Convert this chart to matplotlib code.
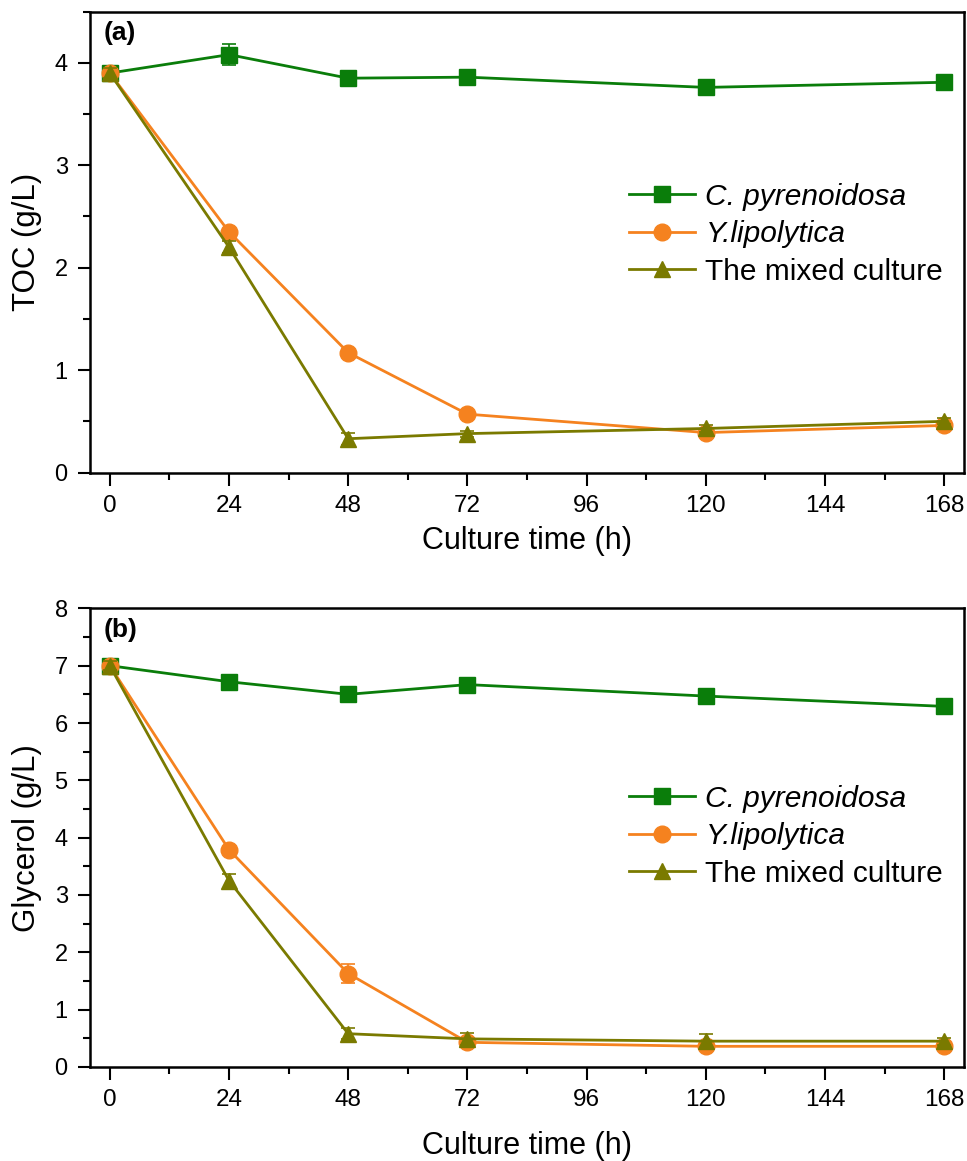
import numpy as np
import matplotlib
matplotlib.use("Agg")
import matplotlib.pyplot as plt
from matplotlib.ticker import MultipleLocator

plt.rcParams['font.family'] = ['Liberation Sans', 'DejaVu Sans']

# --------- data ---------
hours = [0, 24, 48, 72, 120, 168]

toc_cp    = [3.90, 4.08, 3.85, 3.86, 3.76, 3.81]
toc_cp_e  = [0.03, 0.10, 0.03, 0.03, 0.03, 0.03]
toc_yl    = [3.90, 2.35, 1.17, 0.57, 0.39, 0.46]
toc_yl_e  = [0.03, 0.03, 0.04, 0.03, 0.02, 0.02]
toc_mx    = [3.90, 2.20, 0.33, 0.38, 0.43, 0.50]
toc_mx_e  = [0.05, 0.06, 0.06, 0.03, 0.03, 0.03]

gly_cp    = [7.00, 6.72, 6.50, 6.67, 6.47, 6.29]
gly_cp_e  = [0.04, 0.05, 0.05, 0.05, 0.05, 0.05]
gly_yl    = [7.00, 3.79, 1.63, 0.43, 0.36, 0.36]
gly_yl_e  = [0.05, 0.05, 0.16, 0.05, 0.05, 0.05]
gly_mx    = [7.00, 3.25, 0.58, 0.49, 0.45, 0.45]
gly_mx_e  = [0.08, 0.12, 0.10, 0.10, 0.12, 0.06]

labels = ["C. pyrenoidosa", "Y.lipolytica", "The mixed culture"]
colors = ["#0a7d0a", "#f5821f", "#7a7a00"]
markers = ["s", "o", "^"]
msizes = [11, 12, 12]

fig = plt.figure(figsize=(9.67, 11.61), dpi=100)
ax1 = fig.add_axes([0.093, 0.593, 0.904, 0.397])
ax2 = fig.add_axes([0.093, 0.081, 0.904, 0.395])

def draw(ax, series, ymax, ylabel, tag, leg_y, xpad):
    for (y, e), lab, c, m, ms in zip(series, labels, colors, markers, msizes):
        ax.errorbar(hours, y, yerr=e, color=c, fmt="none", capsize=5,
                    elinewidth=1.2, capthick=1.2)
        ax.plot(hours, y, color=c, marker=m, markersize=ms, linewidth=2.0,
                label=lab)
    ax.set_xlim(-4, 172)
    ax.set_ylim(0, ymax)
    ax.xaxis.set_major_locator(MultipleLocator(24))
    ax.xaxis.set_minor_locator(MultipleLocator(12))
    ax.yaxis.set_major_locator(MultipleLocator(1))
    ax.yaxis.set_minor_locator(MultipleLocator(0.5))
    ax.tick_params(which="both", direction="out", top=False, right=False,
                   width=1.5)
    ax.tick_params(which="major", length=9, pad=7)
    ax.tick_params(which="minor", length=5)
    ax.tick_params(axis="y", labelsize=17)
    ax.tick_params(axis="x", labelsize=17.5)
    for sp in ax.spines.values():
        sp.set_linewidth(1.8)
    ax.set_xlabel("Culture time (h)", fontsize=22, labelpad=xpad)
    ax.set_ylabel(ylabel, fontsize=22.5, labelpad=9)
    ax.text(0.016, 0.98, tag, transform=ax.transAxes, fontsize=19,
            fontweight="bold", va="top", ha="left")
    leg = ax.legend(loc="center right", bbox_to_anchor=(1.0, leg_y),
                    frameon=False, fontsize=21.5, handlelength=2.2,
                    labelspacing=0.32, handletextpad=0.35, borderaxespad=0.3)
    for t in leg.get_texts()[:2]:
        t.set_style("italic")

draw(ax1, [(toc_cp, toc_cp_e), (toc_yl, toc_yl_e), (toc_mx, toc_mx_e)],
     4.5, "TOC (g/L)", "(a)", 0.517, 7)
draw(ax2, [(gly_cp, gly_cp_e), (gly_yl, gly_yl_e), (gly_mx, gly_mx_e)],
     8, "Glycerol (g/L)", "(b)", 0.503, 14)

fig.savefig("out.png", dpi=100)
